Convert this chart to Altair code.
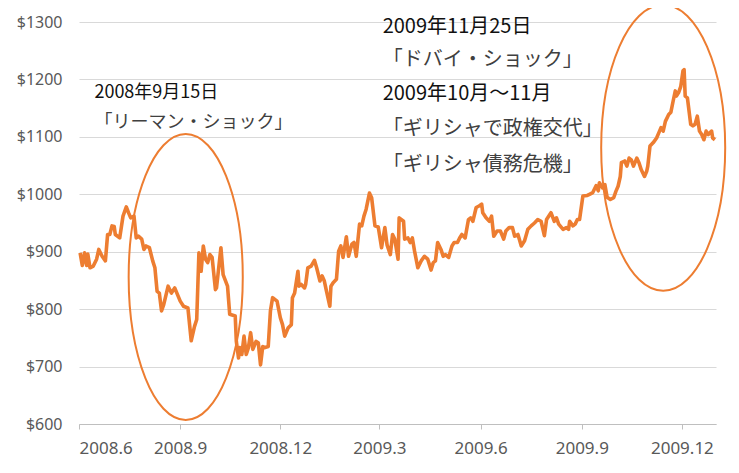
import altair as alt
import pandas as pd

# --- data (day offset from 2008-06-01, gold price USD) ---
start_date = "2008-06-01"
days = [1, 3, 5, 7, 8, 10, 13, 16, 18, 21, 24, 26, 28, 30, 32, 33, 37, 40, 43, 45,
        47, 50, 52, 54, 57, 59, 61, 64, 67, 69, 71, 73, 75, 77, 81, 84, 87, 92, 95, 99,
        102, 105, 107, 109, 111, 113, 115, 117, 119, 121, 124, 125, 129, 131, 135, 137, 142, 143, 145, 146,
        148, 150, 152, 154, 156, 158, 161, 163, 165, 167, 169, 172, 174, 176, 180, 183, 185, 187, 190, 193,
        194, 196, 199, 200, 202, 205, 206, 208, 211, 214, 216, 219, 221, 223, 225, 228, 229, 231, 234, 236,
        238, 240, 243, 245, 248, 250, 252, 255, 257, 259, 261, 264, 266, 269, 272, 275, 278, 280, 283, 285,
        287, 290, 291, 295, 296, 299, 301, 303, 305, 308, 311, 314, 317, 320, 322, 324, 326, 329, 331, 333,
        336, 339, 341, 344, 346, 348, 351, 354, 356, 358, 361, 364, 366, 367, 370, 373, 375, 377, 380, 383,
        386, 388, 391, 394, 396, 399, 402, 405, 408, 411, 414, 417, 420, 423, 425, 429, 432, 434, 436, 440,
        443, 445, 446, 449, 451, 453, 455, 458, 462, 464, 467, 470, 472, 473, 476, 478, 480, 483, 486, 488,
        490, 492, 493, 496, 498, 500, 502, 504, 507, 509, 511, 514, 516, 517, 519, 522, 525, 527, 529, 531,
        533, 536, 538, 540, 542, 543, 545, 547, 549, 550, 551, 553, 556, 558, 560, 562, 564, 566, 568, 570,
        572, 575, 576, 578]
prices = [898, 876, 898, 876, 896, 872, 875, 887, 904, 892, 884, 930, 930, 945, 944, 930, 924, 962, 978, 968,
          959, 962, 924, 927, 922, 904, 910, 907, 884, 872, 831, 828, 797, 808, 840, 828, 837, 814, 805, 802,
          745, 770, 782, 898, 866, 910, 887, 881, 895, 890, 834, 837, 907, 860, 840, 791, 788, 744, 715, 733,
          721, 753, 721, 733, 759, 730, 744, 741, 703, 735, 733, 735, 797, 820, 814, 785, 773, 753, 767, 773,
          820, 828, 866, 840, 843, 837, 843, 872, 875, 885, 872, 849, 858, 849, 831, 805, 840, 846, 852, 901,
          910, 890, 926, 892, 913, 916, 892, 948, 945, 962, 974, 1002, 994, 945, 943, 907, 942, 912, 895, 930,
          922, 887, 959, 953, 922, 924, 916, 924, 901, 872, 884, 892, 887, 868, 881, 884, 916, 904, 892, 895,
          890, 910, 916, 916, 924, 930, 924, 956, 959, 953, 977, 980, 983, 968, 959, 953, 962, 927, 936, 936,
          922, 936, 942, 942, 927, 930, 910, 919, 939, 945, 950, 956, 953, 928, 956, 968, 953, 959, 948, 939,
          942, 939, 953, 945, 948, 956, 956, 997, 998, 1000, 1003, 1015, 1006, 1020, 1011, 1017, 995, 991, 994, 1005,
          1014, 1031, 1055, 1058, 1049, 1063, 1060, 1049, 1063, 1055, 1043, 1031, 1040, 1049, 1084, 1090, 1098, 1107, 1116, 1110,
          1127, 1139, 1143, 1162, 1180, 1171, 1177, 1188, 1215, 1217, 1171, 1168, 1122, 1119, 1122, 1136, 1110, 1104, 1095, 1110,
          1104, 1110, 1098, 1095]

y_ticks = [600, 700, 800, 900, 1000, 1100, 1200, 1300]

# annotations
left_texts = ["2008年9月15日", "「リーマン・ショック」"]
left_text_date = "2008-06-15"
left_text_prices = [1177, 1124]
left_text_colors = ["#111111", "#404040"]

right_texts = ["2009年11月25日", "「ドバイ・ショック」", "2009年10月～11月",
               "「ギリシャで政権交代」", "「ギリシャ債務危機」"]
right_text_date = "2009-03-04"
right_text_prices = [1292, 1234, 1174, 1114, 1051]
right_text_colors = ["#111111", "#404040", "#111111", "#404040", "#404040"]

ellipse_dates = ["2008-09-06", "2009-11-14"]
ellipse_prices = [856, 1081]

ORANGE = "#ED7D31"
FONT = "Noto Sans CJK JP"

dates = (pd.Timestamp(start_date) + pd.to_timedelta(days, unit="D")).strftime("%Y-%m-%d")
df = pd.DataFrame({"date": list(dates), "price": prices})

x_scale = alt.Scale(type="utc",
                    domain=[alt.DateTime(year=2008, month=6, date=1, utc=True),
                            alt.DateTime(year=2010, month=1, date=1, utc=True)])
y_scale = alt.Scale(domain=[600, 1300], nice=False, zero=False)

x_ticks = [alt.DateTime(year=y, month=m, date=1, utc=True)
           for y, m in [(2008, 6), (2008, 9), (2008, 12), (2009, 3), (2009, 6), (2009, 9), (2009, 12)]]

line = alt.Chart(df).mark_line(color=ORANGE, strokeWidth=3.6, strokeJoin="round").encode(
    x=alt.X("date:T", scale=x_scale, title=None,
            axis=alt.Axis(values=x_ticks, labelExpr="utcFormat(datum.value, '%Y.%-m')",
                          grid=False, domainColor="#bfbfbf", tickColor="#bfbfbf", tickSize=5,
                          labelPadding=11, labelFont="Noto Sans", labelFontSize=17,
                          labelColor="#595959")),
    y=alt.Y("price:Q", scale=y_scale, title=None,
            axis=alt.Axis(values=y_ticks, labelExpr="'$' + datum.value", grid=True,
                          gridColor="#d9d9d9", domain=False, ticks=False, tickSize=0,
                          labelPadding=17, labelFont="Noto Sans", labelFontSize=16,
                          labelColor="#595959")),
)

def ellipse_path(a):
    k = 0.5523
    ak = a * k
    return (f"M {a} 0 C {a} {k} {ak} 1 0 1 C {-ak} 1 {-a} {k} {-a} 0 "
            f"C {-a} {-k} {-ak} -1 0 -1 C {ak} -1 {a} {-k} {a} 0 Z")

ell_left = alt.Chart(pd.DataFrame({"date": [ellipse_dates[0]], "price": [ellipse_prices[0]]})).mark_point(
    shape=ellipse_path(0.399), size=81796, filled=False, stroke=ORANGE, strokeWidth=2, opacity=1
).encode(x=alt.X("date:T", scale=x_scale), y=alt.Y("price:Q", scale=y_scale))

ell_right = alt.Chart(pd.DataFrame({"date": [ellipse_dates[1]], "price": [ellipse_prices[1]]})).mark_point(
    shape=ellipse_path(0.4336), size=81796, filled=False, stroke=ORANGE, strokeWidth=2, opacity=1
).encode(x=alt.X("date:T", scale=x_scale), y=alt.Y("price:Q", scale=y_scale))

left_df = pd.DataFrame({"date": [left_text_date] * len(left_texts), "price": left_text_prices,
                        "text": left_texts, "color": left_text_colors})
right_df = pd.DataFrame({"date": [right_text_date] * len(right_texts), "price": right_text_prices,
                         "text": right_texts, "color": right_text_colors})

left_text = alt.Chart(left_df).mark_text(align="left", baseline="middle", font=FONT, fontSize=18).encode(
    x=alt.X("date:T", scale=x_scale), y=alt.Y("price:Q", scale=y_scale),
    text="text:N", color=alt.Color("color:N", scale=None))

right_text = alt.Chart(right_df).mark_text(align="left", baseline="middle", font=FONT, fontSize=20).encode(
    x=alt.X("date:T", scale=x_scale), y=alt.Y("price:Q", scale=y_scale),
    text="text:N", color=alt.Color("color:N", scale=None))

chart = alt.layer(line, ell_left, ell_right, left_text, right_text).properties(
    width=637, height=402,
    autosize=alt.AutoSizeParams(type="none"),
    padding={"left": 71, "top": 14, "right": 15, "bottom": 40},
    background="white",
).configure_view(strokeWidth=0)

chart.save("out.html", embed_options={"renderer": "svg", "actions": False})
